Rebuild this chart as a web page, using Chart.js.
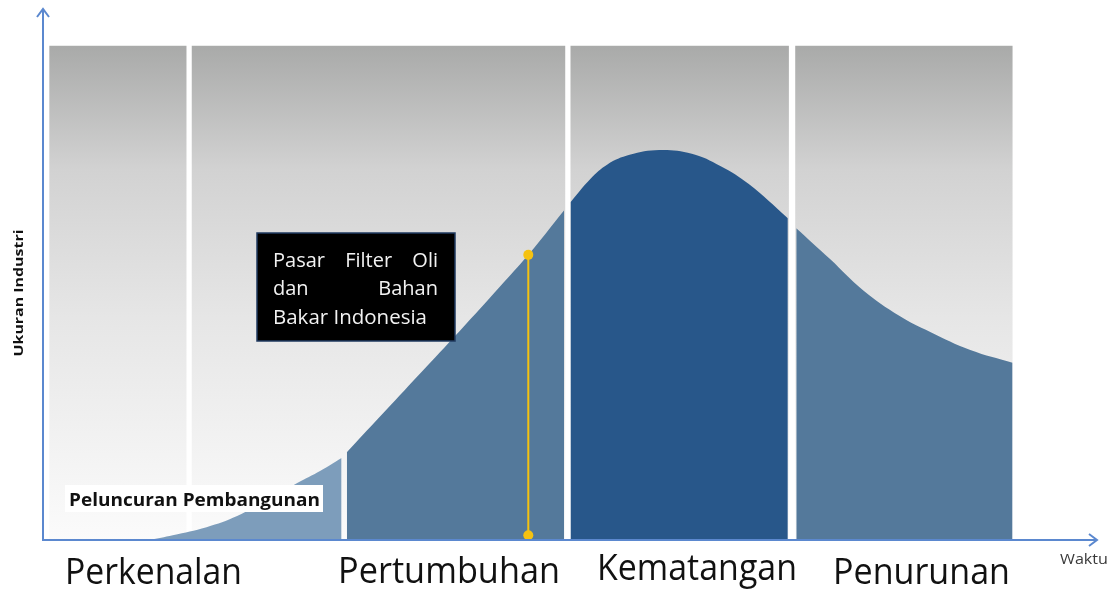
<!DOCTYPE html>
<html>
<head>
<meta charset="utf-8">
<title>Siklus Hidup Industri</title>
<script src="https://cdn.jsdelivr.net/npm/chart.js@4.4.1/dist/chart.umd.min.js"></script>
<style>
  html, body { margin: 0; padding: 0; background: #fff; }
  #wrap { width: 1111px; height: 592px; position: relative; }
</style>
</head>
<body>
<div id="wrap"><canvas id="lifeCycle"></canvas></div>
<script>
// stage names (bottom labels)
const stages = ["Perkenalan", "Pertumbuhan", "Kematangan", "Penurunan"];

// grey background panels, start/end on the time axis
const panelStart = [0.6, 14.1, 50.0, 71.3];
const panelEnd = [13.6, 49.5, 70.7, 91.9];
const panelTop = 92.9;

// curve of industry size, one piece per stage
const introX = [10.1, 12.3, 15.5, 18.4, 21.2, 24.1, 26.3, 28.3];
const introY = [0, 0.9, 2.4, 4.5, 7.5, 10.7, 13.0, 15.4];
const growthX = [28.8, 31.9, 35.7, 39.5, 43.3, 46.0, 49.4];
const growthY = [16.5, 23.1, 31.2, 39.3, 47.6, 53.6, 62.0];
const maturityX = [50.0, 51.9, 53.5, 55.6, 58.4, 61.5, 64.2, 66.9, 70.6];
const maturityY = [63.5, 67.9, 70.6, 72.4, 73.3, 72.6, 70.3, 66.9, 60.5];
const declineX = [71.4, 74.6, 77.7, 81.2, 84.1, 87.9, 91.9];
const declineY = [58.6, 52.8, 47.0, 42.1, 39.1, 35.7, 33.3];

// "Pasar Filter Oli dan Bahan Bakar Indonesia" marker
const markerX = [46.0, 46.0];
const markerY = [0.9, 53.6];

const toPoints = (xs, ys) => xs.map((x, i) => ({ x: x, y: ys[i] }));

function curveSet(xs, ys, colour) {
  return {
    type: "line",
    data: toPoints(xs, ys),
    borderWidth: 0,
    borderColor: colour,
    backgroundColor: colour,
    pointRadius: 0,
    tension: 0.4,
    fill: "origin",
  };
}

// draw the grey panels behind the curve
const panelsPlugin = {
  id: "panels",
  beforeDatasetsDraw(chart) {
    const ctx = chart.ctx;
    const xs = chart.scales.x;
    const ys = chart.scales.y;
    const top = ys.getPixelForValue(panelTop);
    const bottom = ys.getPixelForValue(0);
    const grad = ctx.createLinearGradient(0, top, 0, bottom);
    grad.addColorStop(0, "#a9aaa9");
    grad.addColorStop(0.25, "#d2d2d2");
    grad.addColorStop(0.55, "#e6e6e6");
    grad.addColorStop(1, "#fbfbfb");
    ctx.save();
    ctx.fillStyle = grad;
    for (let i = 0; i < panelStart.length; i++) {
      const l = xs.getPixelForValue(panelStart[i]);
      const r = xs.getPixelForValue(panelEnd[i]);
      ctx.fillRect(l, top, r - l, bottom - top);
    }
    ctx.restore();
  },
};

// write text squeezed/stretched to a given width
function fitText(ctx, text, x, y, width) {
  const w = ctx.measureText(text).width;
  ctx.save();
  ctx.translate(x, y);
  ctx.scale(width / w, 1);
  ctx.fillText(text, 0, 0);
  ctx.restore();
}

function justify(ctx, words, left, right, y) {
  const total = words.reduce((s, w) => s + ctx.measureText(w).width, 0);
  const gap = (right - left - total) / (words.length - 1);
  let x = left;
  words.forEach((w) => {
    ctx.fillText(w, x, y);
    x += ctx.measureText(w).width + gap;
  });
}

// axes with arrows, labels and boxes
const decorPlugin = {
  id: "decor",
  afterDatasetsDraw(chart) {
    const ctx = chart.ctx;
    const a = chart.chartArea;
    ctx.save();

    // axes
    ctx.strokeStyle = "#5b88cf";
    ctx.lineWidth = 2;
    ctx.beginPath();
    ctx.moveTo(a.left, a.top + 1);
    ctx.lineTo(a.left, a.bottom);
    ctx.lineTo(a.right - 1, a.bottom);
    ctx.stroke();
    ctx.beginPath();
    ctx.moveTo(a.left - 6, a.top + 9);
    ctx.lineTo(a.left, a.top + 1);
    ctx.lineTo(a.left + 6, a.top + 9);
    ctx.moveTo(a.right - 9, a.bottom - 6);
    ctx.lineTo(a.right - 1, a.bottom);
    ctx.lineTo(a.right - 9, a.bottom + 6);
    ctx.stroke();

    // axis titles
    ctx.fillStyle = "#3a3a3a";
    ctx.font = "15px 'Open Sans'";
    ctx.textBaseline = "alphabetic";
    fitText(ctx, "Waktu", 1060, 564, 48);

    ctx.save();
    ctx.translate(23, 293);
    ctx.rotate(-Math.PI / 2);
    ctx.fillStyle = "#111";
    ctx.font = "bold 13px 'Open Sans'";
    ctx.textAlign = "left";
    const uw = ctx.measureText("Ukuran Industri").width;
    ctx.scale(127 / uw, 1);
    ctx.fillText("Ukuran Industri", -uw / 2, 0);
    ctx.restore();

    // stage labels
    ctx.fillStyle = "#111";
    ctx.font = "36px 'Open Sans'";
    const labelX = [65, 338, 597, 833];
    const labelW = [177, 222, 200, 177];
    const labelY = [584, 583, 580, 584];
    stages.forEach((s, i) => fitText(ctx, s, labelX[i], labelY[i], labelW[i]));

    // launch label
    ctx.fillStyle = "#ffffff";
    ctx.fillRect(65, 485, 258, 27);
    ctx.fillStyle = "#111";
    ctx.font = "bold 18px 'Open Sans'";
    fitText(ctx, "Peluncuran Pembangunan", 69, 506, 251);

    // market box
    ctx.fillStyle = "#000";
    ctx.fillRect(257, 233, 198, 108);
    ctx.strokeStyle = "#1f3a60";
    ctx.lineWidth = 1.5;
    ctx.strokeRect(257, 233, 198, 108);
    ctx.fillStyle = "#f2f2f2";
    ctx.font = "20px 'Open Sans'";
    justify(ctx, ["Pasar", "Filter", "Oli"], 273, 438, 267);
    justify(ctx, ["dan", "Bahan"], 273, 438, 295);
    fitText(ctx, "Bakar Indonesia", 273, 324, 154);

    ctx.restore();
  },
};

new Chart(document.getElementById("lifeCycle"), {
  type: "line",
  data: {
    datasets: [
      {
        type: "line",
        data: toPoints(markerX, markerY),
        borderColor: "#f5c211",
        borderWidth: 2,
        pointRadius: 5,
        pointBackgroundColor: "#f5c211",
        pointBorderWidth: 0,
        fill: false,
      },
      curveSet(introX, introY, "#7d9dbb"),
      curveSet(growthX, growthY, "#54799b"),
      curveSet(maturityX, maturityY, "#28578a"),
      curveSet(declineX, declineY, "#54799b"),
    ],
  },
  options: {
    responsive: true,
    maintainAspectRatio: false,
    animation: false,
    layout: { padding: { left: 43, right: 13, top: 8, bottom: 52 } },
    scales: {
      x: { type: "linear", min: 0, max: 100, display: false },
      y: { type: "linear", min: 0, max: 100, display: false },
    },
    plugins: {
      legend: { display: false },
      tooltip: { enabled: false },
    },
  },
  plugins: [panelsPlugin, decorPlugin],
});
</script>
</body>
</html>
